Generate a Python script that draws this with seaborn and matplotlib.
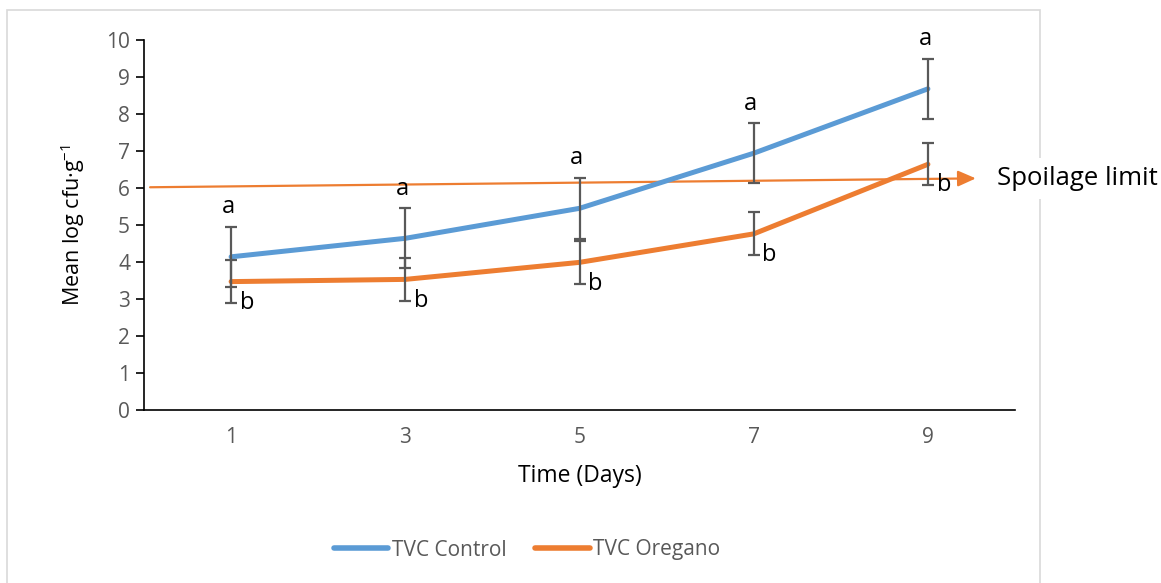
import matplotlib
matplotlib.use("Agg")
import matplotlib.pyplot as plt
import seaborn as sns
import pandas as pd
from matplotlib.patches import Rectangle

days = [1, 3, 5, 7, 9]
control_mean = [4.14, 4.64, 5.45, 6.94, 8.68]
control_err = [0.81, 0.81, 0.83, 0.81, 0.82]
oregano_mean = [3.47, 3.53, 3.99, 4.76, 6.64]
oregano_err = [0.58, 0.58, 0.58, 0.58, 0.57]
control_letters = ["a", "a", "a", "a", "a"]
oregano_letters = ["b", "b", "b", "b", "b"]
series_names = ["TVC Control", "TVC Oregano"]
spoilage_label = "Spoilage limit"
spoilage_start = 6.02
spoilage_end = 6.26

sns.set_theme(style="white")
plt.rcParams["font.family"] = ["Open Sans", "DejaVu Sans"]
plt.rcParams["mathtext.fontset"] = "custom"
plt.rcParams["mathtext.rm"] = "Open Sans"
plt.rcParams["mathtext.it"] = "Open Sans"

blue = "#5B9BD5"
orange = "#ED7D31"
grey = "#595959"

df = pd.DataFrame({
    "Day": days * 2,
    "Value": control_mean + oregano_mean,
    "Series": [series_names[0]] * len(days) + [series_names[1]] * len(days),
})

fig = plt.figure(figsize=(11.61, 5.83), dpi=100)
ax = fig.add_axes([144 / 1161, 1 - 410 / 583, (1015 - 144) / 1161, (410 - 40) / 583])

fig.patches.append(Rectangle((7 / 1161, -0.05), (1040 - 7) / 1161, 1.05 - 10 / 583,
                             transform=fig.transFigure, fill=False,
                             edgecolor="#D9D9D9", linewidth=1.2, zorder=-1))

sns.lineplot(data=df, x="Day", y="Value", hue="Series", palette=[blue, orange],
             linewidth=3.6, ax=ax, errorbar=None, zorder=3)
for c in ax.get_lines():
    c.set_solid_capstyle("round")

ax.errorbar(days, control_mean, yerr=control_err, fmt="none", ecolor=grey,
            elinewidth=1.6, capsize=4.3, capthick=1.6, zorder=4)
ax.errorbar(days, oregano_mean, yerr=oregano_err, fmt="none", ecolor=grey,
            elinewidth=1.6, capsize=4.3, capthick=1.6, zorder=4)

for d, m, e, t in zip(days, control_mean, control_err, control_letters):
    ax.annotate(t, (d, m + e), xytext=(-2, 14), textcoords="offset points",
                ha="center", va="center", fontsize=17, color="black")
for d, m, e, t in zip(days, oregano_mean, oregano_err, oregano_letters):
    ax.annotate(t, (d, m - e), xytext=(11.5, 0), textcoords="offset points",
                ha="center", va="center", fontsize=17, color="black")

# spoilage limit arrow
ax.annotate("", xy=(9.55, spoilage_end), xytext=(0.07, spoilage_start),
            arrowprops=dict(arrowstyle="-|>,head_length=0.9,head_width=0.4",
                            color=orange, lw=1.6, shrinkA=0, shrinkB=0),
            annotation_clip=False, zorder=2)
ax.annotate(spoilage_label, xy=(9.55, spoilage_end), xytext=(15, 0),
            textcoords="offset points", ha="left", va="center",
            fontsize=18.5, color="black", annotation_clip=False,
            bbox=dict(boxstyle="square,pad=0.3", facecolor="white", edgecolor="none"))

ax.set_xlim(0, 10)
ax.set_ylim(0, 10)
ax.set_yticks(range(0, 11))
ax.set_xticks(days)
ax.set_xticks([0, 2, 4, 6, 8, 10], minor=True)
ax.tick_params(axis="x", which="major", length=0, pad=12, labelsize=15, labelcolor=grey)
ax.tick_params(axis="x", which="minor", length=6, width=1.2, color="black", direction="out")
ax.tick_params(axis="y", which="major", length=6, width=1.2, color="black", direction="out",
               pad=4, labelsize=15, labelcolor=grey, left=True)
for s in ["top", "right"]:
    ax.spines[s].set_visible(False)
for s in ["left", "bottom"]:
    ax.spines[s].set_color("black")
    ax.spines[s].set_linewidth(1.2)

ax.set_xlabel("Time (Days)", fontsize=16.5, color="black", labelpad=12)
ax.set_ylabel("Mean log cfu·g$^{-1}$", fontsize=15.5, color="black", labelpad=14)

ax.legend_.remove()
handles = [plt.Line2D([], [], color=blue, lw=4, solid_capstyle="round"),
           plt.Line2D([], [], color=orange, lw=4, solid_capstyle="round")]
fig.legend(handles, series_names, loc="center", bbox_to_anchor=(527 / 1161, 1 - 550 / 583),
           ncol=2, frameon=False, fontsize=15, labelcolor=grey, handlelength=2.6,
           handletextpad=0.15, columnspacing=1.4)

fig.savefig("out.png", dpi=100)
